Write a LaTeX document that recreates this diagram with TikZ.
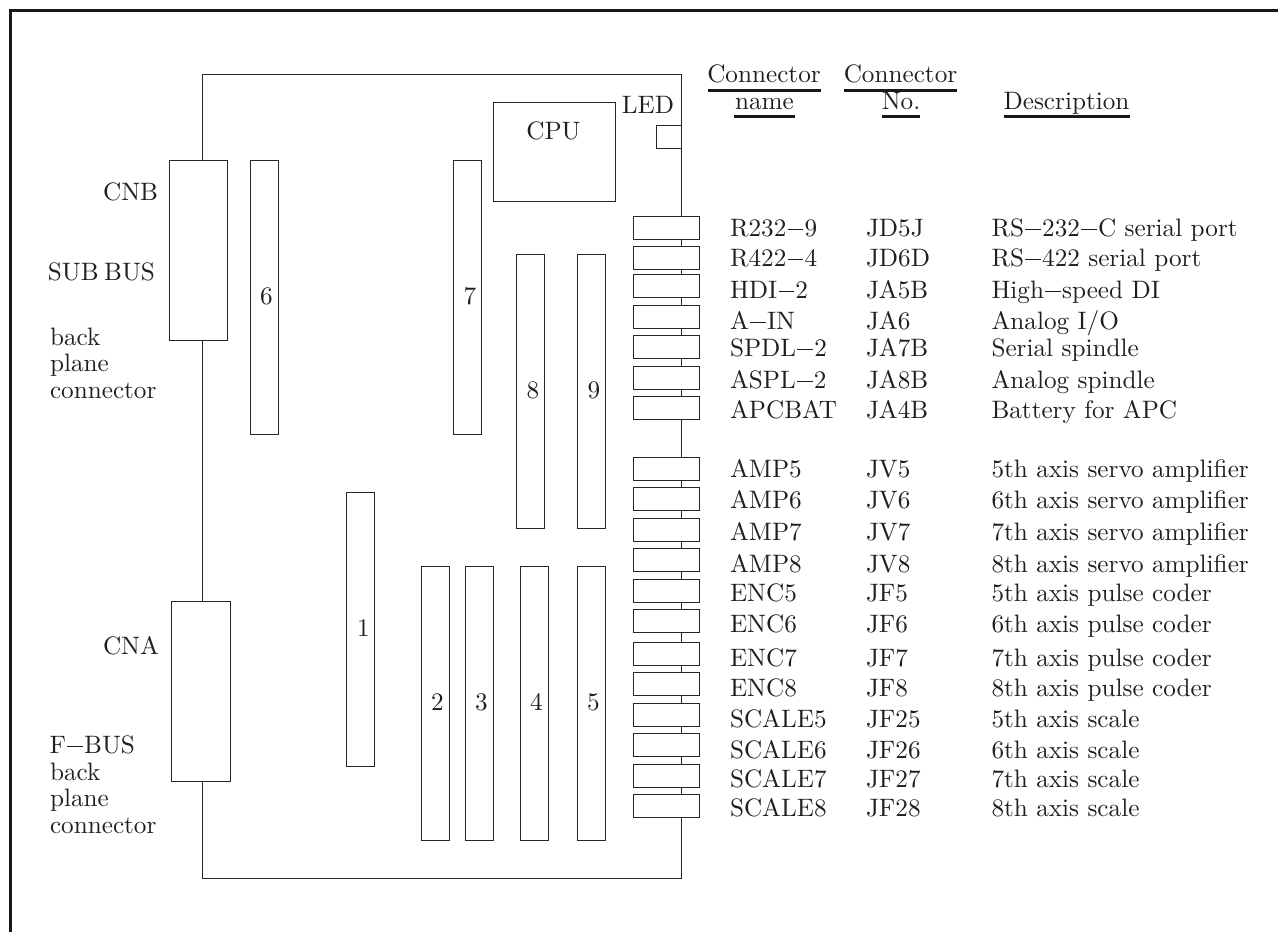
\documentclass[tikz,border=0pt]{standalone}
\usepackage{fontspec}
\setmainfont{lmroman10-regular.otf}
\tikzset{
  x=0.75pt,y=-0.75pt,
  part/.style={draw=black!85,line width=0.8pt,fill=white,outer sep=0pt,inner sep=0pt,anchor=north west},
  txt/.style={anchor=base west,inner sep=0pt,outer sep=0pt,text=black!88,font=\fontsize{18.9}{20}\selectfont},
  txe/.style={txt,anchor=base east},
  txc/.style={txt,anchor=base},
  rule/.style={line width=1.6pt,draw=black!90}
}
\newcommand{\mn}{\kern0.05em\raisebox{0.24em}{\rule{0.62em}{0.055em}}\kern0.05em}
\newcommand{\partbox}[5]{\node[part,minimum width=#3*0.75pt,minimum height=#4*0.75pt] (#5) at (#1,#2) {};}
\begin{document}
\begin{tikzpicture}
\useasboundingbox (0,0) rectangle (1278,932);
% outer frame
\coordinate (fa) at (10.5,932);
\coordinate (fb) at (10.5,10.5);
\coordinate (fc) at (1278,10.5);
\draw[line width=1.6pt,draw=black!90,line join=miter] (fa) -- (fb) -- (fc);
% board
\coordinate (ba) at (202.5,74.5);
\coordinate (bb) at (681.5,74.5);
\coordinate (bc) at (681.5,878.5);
\coordinate (bd) at (202.5,878.5);
\draw[part,fill=none] (ba) -- (bb) -- (bc) -- (bd) -- cycle;
% back plane connectors
\partbox{169.5}{160.5}{58}{180}{cnb}
\partbox{171.5}{601.5}{59}{180}{cna}
% slots
\partbox{250.5}{160.5}{28}{274}{s6}
\partbox{453.5}{160.5}{28}{274}{s7}
\partbox{516.5}{254.5}{28}{274}{s8}
\partbox{577.5}{254.5}{28}{274}{s9}
\partbox{346.5}{492.5}{28}{274}{s1}
\partbox{421.5}{566.5}{28}{274}{s2}
\partbox{465.5}{566.5}{28}{274}{s3}
\partbox{520.5}{566.5}{28}{274}{s4}
\partbox{577.5}{566.5}{28}{274}{s5}
\partbox{493.5}{102.5}{122}{99}{cpu}
\partbox{656.5}{125.5}{25}{23}{led}
% connectors
\foreach \n/\y in {a/216.5,b/246.5,c/274.5,d/305.5,e/335.5,f/366.5,g/396.5,h/457.5,i/487.5,j/518.5,k/548.5,l/579.5,m/609.5,n/642.5,o/672.5,p/703.5,q/733.5,r/764.5,s/794.5}{
  \partbox{633.5}{\y}{66}{23}{c\n}
}
% slot labels
\node[txc] (l6) at (266.5,304) {6};
\node[txc] (l7) at (470,304) {7};
\node[txc] (l8) at (533,398) {8};
\node[txc] (l9) at (594,398) {9};
\node[txc] (l1) at (363.5,636) {1};
\node[txc] (l2) at (437.5,710) {2};
\node[txc] (l3) at (481.5,710) {3};
\node[txc] (l4) at (536.5,710) {4};
\node[txc] (l5) at (593.5,710) {5};
\node[txc] (lcpu) at (553.5,139) {CPU};
\node[txe] (lled) at (674,113) {LED};
% left labels
\node[txe] (lcnb) at (158,200.5) {CNB};
\node[txe] (lsub) at (155,280.5) {SUB\hspace{0.22em}BUS};
\node[txt] (lb1) at (50,345) {back};
\node[txt] (lp1) at (50,371.5) {plane};
\node[txt] (lc1) at (50,398) {connector};
\node[txe] (lcna) at (159,654) {CNA};
\node[txe] (lfb) at (135,753) {F\mn BUS};
\node[txt] (lb2) at (50,780) {back};
\node[txt] (lp2) at (50,806.5) {plane};
\node[txt] (lc2) at (50,833) {connector};
% header
\node[txc] (h1) at (764,82.5) {Connector};
\node[txc] (h2) at (764.5,109.5) {name};
\node[txc] (h3) at (900.5,82.5) {Connector};
\node[txc] (h4) at (901,109.5) {No.};
\node[txc] (h5) at (1066.5,109.5) {Description};
\draw[rule] (707.5,90.5) -- (821,90.5);
\draw[rule] (734,116.5) -- (795,116.5);
\draw[rule] (843.5,90.5) -- (957,90.5);
\draw[rule] (881.5,116.5) -- (920,116.5);
\draw[rule] (1003.5,116.5) -- (1130,116.5);
% table
\foreach \y/\ta/\tb/\tc in {
 236.5/R232\mn 9/JD5J/RS\mn 232\mn C serial port,
 266/R422\mn 4/JD6D/RS\mn 422 serial port,
 298/HDI\mn 2/JA5B/High\mn speed DI,
 329/A\mn IN/JA6/Analog I\slash O,
 356.5/SPDL\mn 2/JA7B/Serial spindle,
 388/ASPL\mn 2/JA8B/Analog spindle,
 418.5/APCBAT/JA4B/Battery for APC,
 477/AMP5/JV5/5th axis servo amplifier,
 508.5/AMP6/JV6/6th axis servo amplifier,
 540.5/AMP7/JV7/7th axis servo amplifier,
 572.5/AMP8/JV8/8th axis servo amplifier,
 601/ENC5/JF5/5th axis pulse coder,
 632/ENC6/JF6/6th axis pulse coder,
 666.5/ENC7/JF7/7th axis pulse coder,
 696/ENC8/JF8/8th axis pulse coder,
 727/SCALE5/JF25/5th axis scale,
 758/SCALE6/JF26/6th axis scale,
 787.5/SCALE7/JF27/7th axis scale,
 816/SCALE8/JF28/8th axis scale}{
  \node[txt] at (730,\y) {\ta};
  \node[txt] at (866,\y) {\tb};
  \node[txt] at (991.5,\y) {\tc};
}
\end{tikzpicture}
\end{document}
